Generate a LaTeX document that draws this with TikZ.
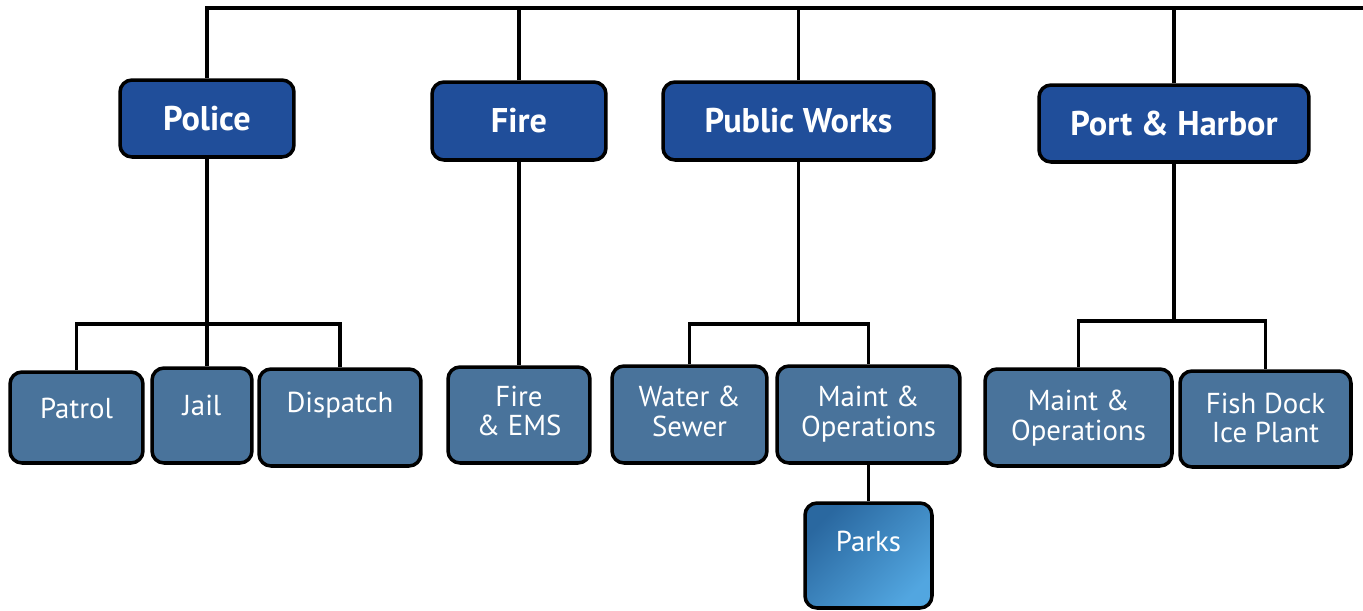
\documentclass[tikz,border=0pt]{standalone}
\usepackage{fontspec}
\setmainfont{PT Sans}
\definecolor{headblue}{RGB}{32,78,154}
\definecolor{subblue}{RGB}{73,115,155}
\definecolor{parkdark}{RGB}{42,104,160}
\definecolor{parklight}{RGB}{82,166,224}
\tikzset{head/.style={draw=black,line width=2pt,fill=headblue,rounded corners=0.24cm,text=white,font=\fontsize{19.5}{21}\selectfont\bfseries}}
\tikzset{sub/.style={draw=black,line width=2pt,fill=subblue,rounded corners=0.24cm}}
\tikzset{subtxt/.style={text=white,align=center,font=\fontsize{16.4}{17}\selectfont,inner sep=0pt}}
\tikzset{wire/.style={line width=2pt}}

\begin{document}
\begin{tikzpicture}[x=0.02cm,y=-0.02cm]
      \useasboundingbox (0,0) rectangle (1363,610);

      % department heads
      \node[head,minimum width=3.48cm,minimum height=1.54cm] at (207,118.5) (police) {Police};
      \node[head,minimum width=3.48cm,minimum height=1.56cm] at (519,121) (fire) {Fire};
      \node[head,minimum width=5.42cm,minimum height=1.56cm] at (798.5,121) (works) {Public Works};
      \node[head,minimum width=5.40cm,minimum height=1.54cm] at (1174,123.5) (port) {Port \& Harbor};

      % divisions
      \node[sub,minimum width=2.66cm,minimum height=1.82cm] at (76.5,417.5) (patrol) {};
      \node[sub,minimum width=2.00cm,minimum height=1.90cm] at (202,415.5) (jail) {};
      \node[sub,minimum width=3.24cm,minimum height=1.94cm] at (340,417.5) (dispatch) {};
      \node[sub,minimum width=2.84cm,minimum height=1.92cm] at (519,415) (ems) {};
      \node[sub,minimum width=3.10cm,minimum height=1.94cm] at (689.5,414.5) (water) {};
      \node[sub,minimum width=3.66cm,minimum height=1.94cm] at (868.5,414.5) (maint) {};
      \node[sub,minimum width=2.54cm,minimum height=2.10cm,draw=black,left color=parkdark,right color=parklight,shading angle=45] at (868.5,555.5) (parks) {};
      \node[sub,minimum width=3.74cm,minimum height=1.94cm] at (1078.5,417.5) (portmaint) {};
      \node[sub,minimum width=3.42cm,minimum height=1.92cm] at (1265.5,419) (fish) {};

      \node[subtxt] at (76.5,408) (patrol-t) {Patrol};
      \node[subtxt] at (202,405) (jail-t) {Jail};
      \node[subtxt] at (340,405) (dispatch-t) {Dispatch};
      \node[subtxt] at (519,411) (ems-t) {Fire\\\& EMS};
      \node[subtxt] at (689.5,411) (water-t) {Water \&\\Sewer};
      \node[subtxt] at (868.5,414) (maint-t) {Maint \&\\Operations};
      \node[subtxt] at (868.5,541) (parks-t) {Parks};
      \node[subtxt] at (1078.5,418) (portmaint-t) {Maint \&\\Operations};
      \node[subtxt] at (1265.5,418) (fish-t) {Fish Dock\\Ice Plant};

      % connectors
      \coordinate (top) at (205,8);
      \coordinate (topend) at (1363,8);
      \coordinate (policebar) at (72,324);
      \coordinate (worksbar) at (683,324);
      \coordinate (portbar) at (1080,321);

      \draw[wire] (top) -- (topend);
      \draw[wire] (police.north) -- (police.north |- top);
      \draw[wire] (fire.north) -- (fire.north |- top);
      \draw[wire] (works.north) -- (works.north |- top);
      \draw[wire] (port.north) -- (port.north |- top);

      \draw[wire] (police.south) -- (police.south |- policebar);
      \draw[wire] (patrol.north) |- (dispatch.north |- policebar) -- (dispatch.north);
      \draw[wire] (police.south |- policebar) -- (police.south |- jail.north);

      \draw[wire] (fire) -- (ems);

      \draw[wire] (works.south) -- (works.south |- worksbar);
      \draw[wire] (water.north) |- (maint.north |- worksbar) -- (maint.north);
      \draw[wire] (maint) -- (parks);

      \draw[wire] (port.south) -- (port.south |- portbar);
      \draw[wire] (portmaint.north) |- (fish.north |- portbar) -- (fish.north);

    \end{tikzpicture}
\end{document}
